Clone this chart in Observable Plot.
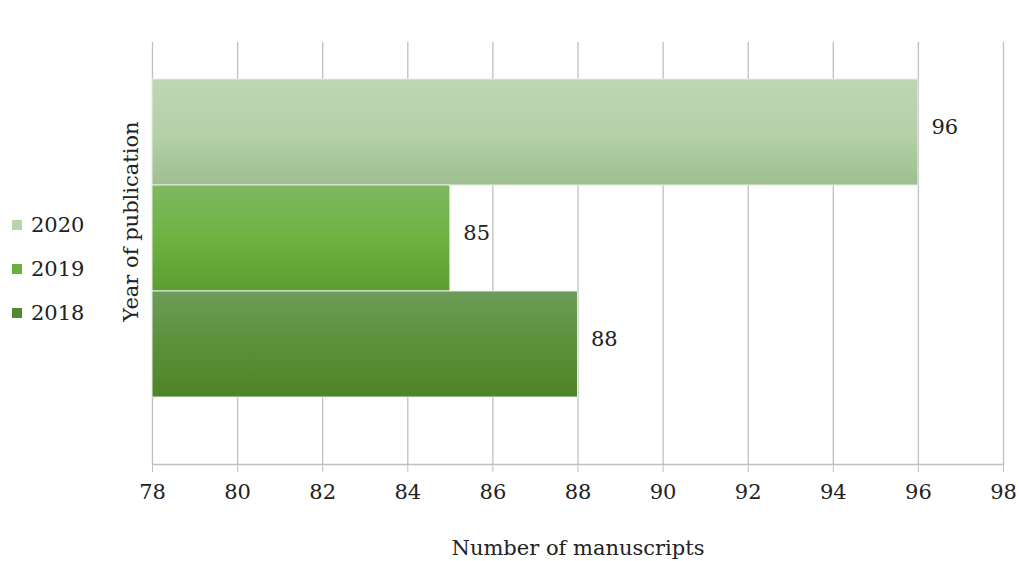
<!DOCTYPE html>
<html>
<head>
<meta charset="utf-8">
<script src="https://cdn.jsdelivr.net/npm/d3@7"></script>
<script src="https://cdn.jsdelivr.net/npm/@observablehq/plot@0.6"></script>
<style>
  html, body { margin: 0; padding: 0; background: #fff; }
  #wrap { position: relative; width: 1019px; height: 561px; font-family: "DejaVu Serif", serif; color: #222; }
  #legend { position: absolute; left: 12px; top: 203px; font-size: 21px; }
  #legend .item { display: flex; align-items: center; height: 44px; }
  #legend .sw { width: 10px; height: 10px; margin-right: 9px; }
</style>
</head>
<body>
<div id="wrap">
  <div id="chart"></div>
  <div id="legend"></div>
</div>
<script>
const years = ["2020", "2019", "2018"];
const counts = [96, 85, 88];
const xMin = 78;
const xMax = 98;
const xTicks = [78, 80, 82, 84, 86, 88, 90, 92, 94, 96, 98];
const legendColors = ["#b7d4aa", "#6aaf3d", "#4f8a2e"];
const gradStops = {
  "2020": ["#bdd6b3", "#b5d1a9", "#9ebf90"],
  "2019": ["#80b862", "#6db340", "#5c9d31"],
  "2018": ["#6d9c5a", "#5b9139", "#4d8428"]
};
const xLabel = "Number of manuscripts";
const yLabel = "Year of publication";

const data = years.map((y, i) => ({year: y, count: counts[i], base: xMin}));

const svgNS = "http://www.w3.org/2000/svg";
function defsMark() {
  const defs = document.createElementNS(svgNS, "defs");
  for (const y of years) {
    const g = document.createElementNS(svgNS, "linearGradient");
    g.setAttribute("id", "grad" + y);
    g.setAttribute("x1", "0"); g.setAttribute("y1", "0");
    g.setAttribute("x2", "0"); g.setAttribute("y2", "1");
    gradStops[y].forEach((c, i, arr) => {
      const s = document.createElementNS(svgNS, "stop");
      s.setAttribute("offset", (i / (arr.length - 1)).toString());
      s.setAttribute("stop-color", c);
      g.appendChild(s);
    });
    defs.appendChild(g);
  }
  return defs;
}

const chart = Plot.plot({
  width: 1019,
  height: 561,
  marginLeft: 152,
  marginRight: 16,
  marginTop: 42,
  marginBottom: 97,
  style: {fontFamily: "DejaVu Serif, serif", fontSize: "21px", color: "#222", background: "#fff"},
  x: {domain: [xMin, xMax], ticks: xTicks, axis: null},
  y: {domain: years, range: [78, 397], padding: 0, axis: null},
  color: {type: "identity"},
  marks: [
    defsMark,
    Plot.gridX(xTicks, {stroke: "#bfbfbf", strokeOpacity: 1, strokeWidth: 1.3}),
    Plot.barX(data, {y: "year", x1: "base", x2: "count", fill: d => `url(#grad${d.year})`, stroke: "#e6eee2", strokeWidth: 1}),
    Plot.text(data, {y: "year", x: "count", text: d => String(d.count), textAnchor: "start", dx: 13, dy: -5, fontSize: 21, fill: "#222"}),
    Plot.axisX({ticks: xTicks, tickSize: 8, tickPadding: 12, stroke: "#bfbfbf", tickFormat: d => String(d), fontSize: 21, fill: "#222", label: null}),
    Plot.frame({anchor: "bottom", stroke: "#bfbfbf", strokeWidth: 1.3}),
    Plot.text([xLabel], {frameAnchor: "bottom", dy: 90, fontSize: 21, fill: "#222"}),
    Plot.text([yLabel], {frameAnchor: "left", textAnchor: "middle", dx: -21, dy: -32, rotate: -90, fontSize: 21, fill: "#222"})
  ]
});
document.getElementById("chart").appendChild(chart);

const leg = document.getElementById("legend");
years.forEach((y, i) => {
  const item = document.createElement("div");
  item.className = "item";
  const sw = document.createElement("span");
  sw.className = "sw";
  sw.style.background = legendColors[i];
  const t = document.createElement("span");
  t.textContent = y;
  item.appendChild(sw);
  item.appendChild(t);
  leg.appendChild(item);
});
</script>
</body>
</html>
